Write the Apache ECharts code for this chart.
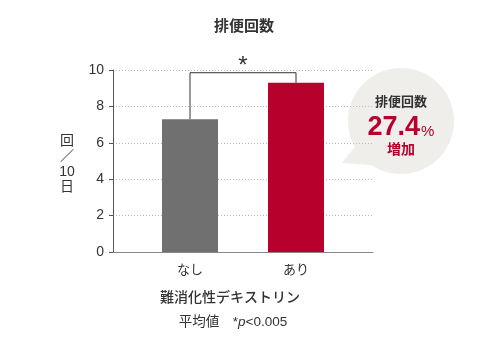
<!DOCTYPE html>
<html><head><meta charset="utf-8">
<script src="https://cdn.jsdelivr.net/npm/echarts@6/dist/echarts.min.js"></script>
<style>html,body{margin:0;padding:0;background:#fff}#c{width:488px;height:350px}</style>
</head><body><div id="c"></div>
<script>
const categories = ['なし', 'あり'];
const values = [7.3, 9.3];
const barColors = ['#707070', '#b8002c'];
const yTicks = [0, 2, 4, 6, 8, 10];
const bracketLevel = 9.85;
const increasePct = '27.4';

const FONT = '"Liberation Sans","Noto Sans CJK JP",sans-serif';
const chart = echarts.init(document.getElementById('c'), null, {renderer: 'canvas'});

const gridTop = 70, gridH = 182;
chart.setOption({
  animation: false,
  textStyle: {fontFamily: FONT},
  grid: [
    {left: 113, width: 260, top: gridTop, height: gridH},
    {left: 137, width: 212, top: gridTop, height: gridH}
  ],
  xAxis: [
    {gridIndex: 0, type: 'category', data: ['', ''], axisLine: {lineStyle: {color: '#888', width: 1}},
     axisTick: {show: false}, axisLabel: {show: false}},
    {gridIndex: 1, type: 'category', data: categories, axisLine: {show: false}, axisTick: {show: false},
     axisLabel: {color: '#333', fontSize: 13, margin: 12, fontFamily: FONT}}
  ],
  yAxis: [
    {gridIndex: 0, type: 'value', min: yTicks[0], max: yTicks[yTicks.length - 1], interval: 2,
     axisLine: {show: true, lineStyle: {color: '#555', width: 1}},
     axisTick: {show: true, length: 4, lineStyle: {color: '#555'}},
     axisLabel: {color: '#333', fontSize: 14, margin: 9, fontFamily: FONT},
     splitLine: {show: true, lineStyle: {color: '#bbb', type: [1, 2], width: 1}}},
    {gridIndex: 1, type: 'value', min: 0, max: 10, show: false, splitLine: {show: false}}
  ],
  series: [
    {type: 'bar', xAxisIndex: 1, yAxisIndex: 1, barWidth: 56,
     data: values.map((v, i) => ({value: v, itemStyle: {color: barColors[i]}}))},
    {type: 'line', xAxisIndex: 1, yAxisIndex: 1, symbol: 'none', silent: true,
     lineStyle: {color: '#333', width: 1},
     data: [[0, values[0]], [0, bracketLevel], [1, bracketLevel], [1, values[1]]]}
  ],
  graphic: [
    {type: 'text', left: 'center', top: 19, style: {text: '排便回数', font: 'bold 15px ' + FONT, fill: '#333'}},
    {type: 'text', x: 243, y: 66, style: {text: '*', font: '24px ' + FONT, fill: '#333', textAlign: 'center', textVerticalAlign: 'middle'}},
    {type: 'text', x: 67, y: 133, style: {text: '回\n／\n10\n日', font: '14px ' + FONT, fill: '#333', textAlign: 'center', lineHeight: 15.5}},
    {type: 'polygon', shape: {points: [[342, 163], [362, 138], [382, 166]]}, style: {fill: '#efeeeb'}},
    {type: 'circle', shape: {cx: 401, cy: 121, r: 53}, style: {fill: '#efeeeb'}},
    {type: 'text', x: 401, y: 102, style: {text: '排便回数', font: 'bold 13px ' + FONT, fill: '#333', textAlign: 'center', textVerticalAlign: 'middle'}},
    {type: 'text', x: 401, y: 128, style: {
      text: '{a|' + increasePct + '}{b|%}', textAlign: 'center', textVerticalAlign: 'middle', fill: '#b8002c',
      rich: {a: {fontSize: 27, fontWeight: 'bold', fontFamily: FONT, fill: '#b8002c', verticalAlign: 'bottom'},
             b: {fontSize: 15, fontFamily: FONT, fill: '#b8002c', verticalAlign: 'bottom', padding: [0, 0, 2, 1]}}}},
    {type: 'text', x: 401, y: 150, style: {text: '増加', font: 'bold 14px ' + FONT, fill: '#b8002c', textAlign: 'center', textVerticalAlign: 'middle'}},
    {type: 'text', x: 230, y: 298, style: {text: '難消化性デキストリン', font: '500 14px ' + FONT, fill: '#333', textAlign: 'center', textVerticalAlign: 'middle'}},
    {type: 'text', x: 233, y: 322, style: {
      text: '{n|平均値　*}{i|p}{n|<0.005}', textAlign: 'center', textVerticalAlign: 'middle', fill: '#333',
      rich: {n: {fontSize: 13.5, fontFamily: FONT, fill: '#333'}, i: {fontSize: 13.5, fontFamily: FONT, fontStyle: 'italic', fill: '#333'}}}}
  ]
});
</script></body></html>
